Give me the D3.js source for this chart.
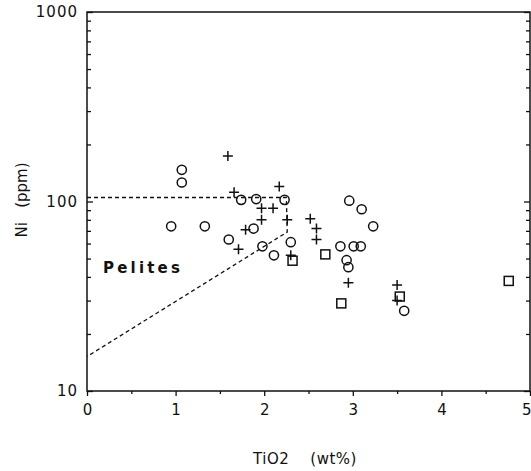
<!DOCTYPE html>
<html>
<head>
<meta charset="utf-8">
<script src="https://cdn.jsdelivr.net/npm/d3@7"></script>
<style>
  body { margin: 0; background: #fff; }
  text { font-family: "DejaVu Sans", Verdana, sans-serif; fill: #111; }
</style>
</head>
<body>
<div id="container"></div>
<script>
let w = 531;
let h = 471;

// samples: TiO2 (wt%) and Ni (ppm)
let circleTi = [1.07, 1.07, 0.95, 1.33, 1.74, 1.91, 2.23, 1.88, 1.60, 1.98, 2.11, 2.30,
                2.96, 3.10, 3.23, 2.86, 3.01, 3.09, 2.93, 2.95, 3.58];
let circleNi = [147, 126, 74, 74, 102, 103, 102, 72, 63, 58, 52, 61,
                101, 91, 74, 58, 58, 58, 49, 45, 26.5];

let plusTi = [1.59, 1.66, 2.17, 1.97, 2.10, 1.97, 2.26, 1.79, 1.71, 2.52, 2.59, 2.59,
              2.30, 2.95, 3.50, 3.50];
let plusNi = [174, 112, 120, 92, 92, 80, 80, 71, 56, 81, 72, 63,
              52, 37.3, 36.3, 30];

let squareTi = [2.32, 2.69, 2.87, 3.53, 4.76];
let squareNi = [48.7, 52.6, 29, 31.5, 38.1];

// outline of the "Pelites" field
let pelitesTi = [0, 2.25, 2.26, 0];
let pelitesNi = [105, 105, 69, 15.2];

let xTicks = [0, 1, 2, 3, 4, 5];
let xMinor = [0.5, 1.5, 2.5, 3.5, 4.5];
let yTicks = [10, 100, 1000];
let yMinor = [20, 30, 40, 50, 60, 70, 80, 90, 200, 300, 400, 500, 600, 700, 800, 900];

// plot box edges (top is a window global, so use other names)
let plotL = 87, plotR = 530, plotT = 12, plotB = 391;

let viz = d3.select("#container")
  .append("svg")
    .attr("width", w)
    .attr("height", h)
    .style("background-color", "#fff");

let xScale = d3.scaleLinear().domain([0, 5]).range([plotL, plotR]);
let yScale = d3.scaleLog().domain([10, 1000]).range([plotB, plotT]);

// frame
viz.append("rect")
  .attr("x", plotL).attr("y", plotT)
  .attr("width", plotR - plotL).attr("height", plotB - plotT)
  .attr("fill", "none").attr("stroke", "#111").attr("stroke-width", 1.5);

// x axis: ticks pointing out, below the frame
let xAxis = d3.axisBottom(xScale).tickValues(xTicks).tickSize(5).tickSizeOuter(0)
  .tickFormat(d3.format("d"));
let xAxisGroup = viz.append("g").attr("class", "xaxis")
  .attr("transform", "translate(0," + plotB + ")")
  .call(xAxis);
xAxisGroup.select(".domain").remove();
xAxisGroup.selectAll("text")
  .attr("font-size", 15)
  .attr("dy", "1.05em")
  .attr("fill", "#111");
// the last label sits on the right edge; keep it inside the page
xAxisGroup.selectAll("text").filter(d => d == 5)
  .attr("text-anchor", "end")
  .attr("x", 1);

let xMinorGroup = viz.append("g")
  .attr("transform", "translate(0," + plotB + ")")
  .call(d3.axisBottom(xScale).tickValues(xMinor).tickSize(3).tickFormat(""));
xMinorGroup.select(".domain").remove();

// y axis: ticks pointing into the plot on both sides
let yAxisGroup = viz.append("g").attr("class", "yaxis")
  .attr("transform", "translate(" + plotL + ",0)")
  .call(d3.axisRight(yScale).tickValues(yTicks).tickSize(6).tickFormat(""));
yAxisGroup.select(".domain").remove();

let yMinorGroup = viz.append("g")
  .attr("transform", "translate(" + plotL + ",0)")
  .call(d3.axisRight(yScale).tickValues(yMinor).tickSize(4).tickFormat(""));
yMinorGroup.select(".domain").remove();

let yRightGroup = viz.append("g")
  .attr("transform", "translate(" + plotR + ",0)")
  .call(d3.axisLeft(yScale).tickValues(yTicks).tickSize(6).tickFormat(""));
yRightGroup.select(".domain").remove();

let yRightMinor = viz.append("g")
  .attr("transform", "translate(" + plotR + ",0)")
  .call(d3.axisLeft(yScale).tickValues(yMinor).tickSize(4).tickFormat(""));
yRightMinor.select(".domain").remove();

viz.selectAll(".tick line").attr("stroke", "#111").attr("stroke-width", 1.3);

// y tick labels
viz.append("g").selectAll("text")
  .data(yTicks)
  .enter()
  .append("text")
    .attr("x", plotL - 9)
    .attr("y", d => yScale(d))
    .attr("dy", "0.35em")
    .attr("text-anchor", "end")
    .attr("font-size", 15)
    .attr("letter-spacing", 1)
    .text(d => d);

// axis titles
viz.append("text")
  .attr("x", 305).attr("y", 464)
  .attr("text-anchor", "middle")
  .attr("font-size", 15)
  .attr("letter-spacing", 0.5)
  .attr("xml:space", "preserve")
  .text("TiO2    (wt%)");

viz.append("text")
  .attr("transform", "translate(27,200) rotate(-90)")
  .attr("text-anchor", "middle")
  .attr("font-size", 15)
  .attr("xml:space", "preserve")
  .text("Ni   (ppm)");

// Pelites field
let fieldPts = pelitesTi.map((t, i) => [xScale(t), yScale(pelitesNi[i])]);
viz.append("path")
  .attr("d", d3.line()(fieldPts))
  .attr("fill", "none")
  .attr("stroke", "#111")
  .attr("stroke-width", 1.3)
  .attr("stroke-dasharray", "4,3");

viz.append("text")
  .attr("x", 103).attr("y", 273)
  .attr("font-size", 15)
  .attr("font-weight", "bold")
  .attr("letter-spacing", 3.2)
  .text("Pelites");

// markers
let circles = circleTi.map((t, i) => ({ x: t, y: circleNi[i] }));
let pluses = plusTi.map((t, i) => ({ x: t, y: plusNi[i] }));
let squares = squareTi.map((t, i) => ({ x: t, y: squareNi[i] }));

let vizgroup = viz.append("g").attr("class", "vizgroup");

vizgroup.selectAll(".circ").data(circles).enter()
  .append("circle")
    .attr("class", "circ")
    .attr("cx", d => xScale(d.x))
    .attr("cy", d => yScale(d.y))
    .attr("r", 4.6)
    .attr("fill", "none")
    .attr("stroke", "#111")
    .attr("stroke-width", 1.5);

vizgroup.selectAll(".sq").data(squares).enter()
  .append("rect")
    .attr("class", "sq")
    .attr("x", d => xScale(d.x) - 4.5)
    .attr("y", d => yScale(d.y) - 4.5)
    .attr("width", 9)
    .attr("height", 9)
    .attr("fill", "none")
    .attr("stroke", "#111")
    .attr("stroke-width", 1.5);

vizgroup.selectAll(".plus").data(pluses).enter()
  .append("path")
    .attr("class", "plus")
    .attr("d", function(d) {
      let cx = xScale(d.x), cy = yScale(d.y);
      return "M" + (cx - 5) + "," + cy + "H" + (cx + 5) + "M" + cx + "," + (cy - 5) + "V" + (cy + 5);
    })
    .attr("stroke", "#111")
    .attr("stroke-width", 1.5);
</script>
</body>
</html>
